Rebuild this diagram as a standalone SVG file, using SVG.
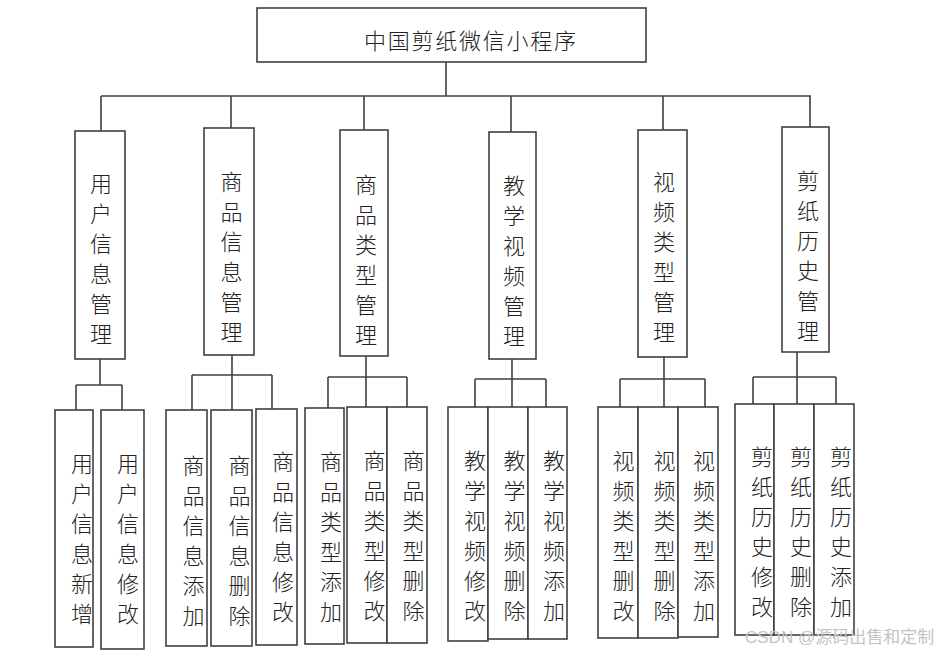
<svg xmlns="http://www.w3.org/2000/svg" width="938" height="654" viewBox="0 0 938 654">
<style>
.box{fill:#fff;stroke:#404040;stroke-width:1.6}
.ln{fill:none;stroke:#404040;stroke-width:1.6}
.t{font-family:"Noto Sans CJK SC","Noto Sans CJK JP",sans-serif;font-size:22px;fill:#222;text-anchor:middle;font-weight:300}
.wm{font-family:"Liberation Sans","Noto Sans CJK SC",sans-serif;font-size:17px;fill:#c4c4c4}
</style>
<rect width="938" height="654" fill="#fff"/>
<g id="connectors" class="ln">
<path d="M446,62V96M101,96H811M101,96V131M231,96V128M364,96V130M511,96V132M663,96V130M810,96V127"/>
<path d="M100,359V385M76,385H122M76,385V410M122,385V410"/>
<path d="M232,355V410M192,375H272M192,375V410M272,375V409"/>
<path d="M366,356V407M328,377H407M328,377V408M407,377V407"/>
<path d="M512,359V407M475,379H546M475,379V407M546,379V407"/>
<path d="M664,357V407M620,379H705M620,379V407M705,379V407"/>
<path d="M797,352V404M753,377H836M753,377V404M836,377V404"/>
</g>
<g id="root"><rect class="box" x="257" y="8" width="389" height="54"/><text class="t" x="470" y="49" textLength="212" lengthAdjust="spacing">中国剪纸微信小程序</text></g>
<g id="n-user"><rect class="box" x="75" y="131" width="50" height="228"/><text class="t" y="192"><tspan x="101">用</tspan><tspan x="101" dy="30">户</tspan><tspan x="101" dy="30">信</tspan><tspan x="101" dy="30">息</tspan><tspan x="101" dy="30">管</tspan><tspan x="101" dy="30">理</tspan></text></g>
<g id="n-goods"><rect class="box" x="204" y="128" width="50" height="227"/><text class="t" y="190"><tspan x="231.5">商</tspan><tspan x="231.5" dy="30">品</tspan><tspan x="231.5" dy="30">信</tspan><tspan x="231.5" dy="30">息</tspan><tspan x="231.5" dy="30">管</tspan><tspan x="231.5" dy="30">理</tspan></text></g>
<g id="n-gtype"><rect class="box" x="340" y="130" width="48" height="226"/><text class="t" y="193"><tspan x="366">商</tspan><tspan x="366" dy="30">品</tspan><tspan x="366" dy="30">类</tspan><tspan x="366" dy="30">型</tspan><tspan x="366" dy="30">管</tspan><tspan x="366" dy="30">理</tspan></text></g>
<g id="n-video"><rect class="box" x="489" y="132" width="47" height="227"/><text class="t" y="193.5"><tspan x="514">教</tspan><tspan x="514" dy="30">学</tspan><tspan x="514" dy="30">视</tspan><tspan x="514" dy="30">频</tspan><tspan x="514" dy="30">管</tspan><tspan x="514" dy="30">理</tspan></text></g>
<g id="n-vtype"><rect class="box" x="638" y="130" width="49" height="227"/><text class="t" y="190"><tspan x="664">视</tspan><tspan x="664" dy="30">频</tspan><tspan x="664" dy="30">类</tspan><tspan x="664" dy="30">型</tspan><tspan x="664" dy="30">管</tspan><tspan x="664" dy="30">理</tspan></text></g>
<g id="n-hist"><rect class="box" x="782" y="127" width="47" height="225"/><text class="t" y="188.5"><tspan x="808">剪</tspan><tspan x="808" dy="30">纸</tspan><tspan x="808" dy="30">历</tspan><tspan x="808" dy="30">史</tspan><tspan x="808" dy="30">管</tspan><tspan x="808" dy="30">理</tspan></text></g>
<g id="n-user-add"><rect class="box" x="55" y="410" width="38" height="237"/><text class="t" y="471.5"><tspan x="82">用</tspan><tspan x="82" dy="30">户</tspan><tspan x="82" dy="30">信</tspan><tspan x="82" dy="30">息</tspan><tspan x="82" dy="30">新</tspan><tspan x="82" dy="30">增</tspan></text></g>
<g id="n-user-edit"><rect class="box" x="101" y="410" width="43" height="239"/><text class="t" y="471.5"><tspan x="128">用</tspan><tspan x="128" dy="30">户</tspan><tspan x="128" dy="30">信</tspan><tspan x="128" dy="30">息</tspan><tspan x="128" dy="30">修</tspan><tspan x="128" dy="30">改</tspan></text></g>
<g id="n-goods-add"><rect class="box" x="166" y="410" width="41" height="236"/><text class="t" y="473.5"><tspan x="193.5">商</tspan><tspan x="193.5" dy="30">品</tspan><tspan x="193.5" dy="30">信</tspan><tspan x="193.5" dy="30">息</tspan><tspan x="193.5" dy="30">添</tspan><tspan x="193.5" dy="30">加</tspan></text></g>
<g id="n-goods-del"><rect class="box" x="211" y="410" width="41" height="236"/><text class="t" y="473.5"><tspan x="239.5">商</tspan><tspan x="239.5" dy="30">品</tspan><tspan x="239.5" dy="30">信</tspan><tspan x="239.5" dy="30">息</tspan><tspan x="239.5" dy="30">删</tspan><tspan x="239.5" dy="30">除</tspan></text></g>
<g id="n-goods-edit"><rect class="box" x="256" y="409" width="41" height="236"/><text class="t" y="470"><tspan x="283">商</tspan><tspan x="283" dy="30">品</tspan><tspan x="283" dy="30">信</tspan><tspan x="283" dy="30">息</tspan><tspan x="283" dy="30">修</tspan><tspan x="283" dy="30">改</tspan></text></g>
<g id="n-gtype-add"><rect class="box" x="305" y="408" width="39" height="236"/><text class="t" y="470"><tspan x="331">商</tspan><tspan x="331" dy="30">品</tspan><tspan x="331" dy="30">类</tspan><tspan x="331" dy="30">型</tspan><tspan x="331" dy="30">添</tspan><tspan x="331" dy="30">加</tspan></text></g>
<g id="n-gtype-edit"><rect class="box" x="347" y="407" width="40" height="236"/><text class="t" y="468.5"><tspan x="374.5">商</tspan><tspan x="374.5" dy="30">品</tspan><tspan x="374.5" dy="30">类</tspan><tspan x="374.5" dy="30">型</tspan><tspan x="374.5" dy="30">修</tspan><tspan x="374.5" dy="30">改</tspan></text></g>
<g id="n-gtype-del"><rect class="box" x="387" y="407" width="40" height="236"/><text class="t" y="468.5"><tspan x="413.5">商</tspan><tspan x="413.5" dy="30">品</tspan><tspan x="413.5" dy="30">类</tspan><tspan x="413.5" dy="30">型</tspan><tspan x="413.5" dy="30">删</tspan><tspan x="413.5" dy="30">除</tspan></text></g>
<g id="n-video-edit"><rect class="box" x="448" y="407" width="40" height="234"/><text class="t" y="468.5"><tspan x="475">教</tspan><tspan x="475" dy="30">学</tspan><tspan x="475" dy="30">视</tspan><tspan x="475" dy="30">频</tspan><tspan x="475" dy="30">修</tspan><tspan x="475" dy="30">改</tspan></text></g>
<g id="n-video-del"><rect class="box" x="488" y="407" width="40" height="232"/><text class="t" y="468.5"><tspan x="514.5">教</tspan><tspan x="514.5" dy="30">学</tspan><tspan x="514.5" dy="30">视</tspan><tspan x="514.5" dy="30">频</tspan><tspan x="514.5" dy="30">删</tspan><tspan x="514.5" dy="30">除</tspan></text></g>
<g id="n-video-add"><rect class="box" x="528" y="407" width="39" height="232"/><text class="t" y="468.5"><tspan x="554">教</tspan><tspan x="554" dy="30">学</tspan><tspan x="554" dy="30">视</tspan><tspan x="554" dy="30">频</tspan><tspan x="554" dy="30">添</tspan><tspan x="554" dy="30">加</tspan></text></g>
<g id="n-vtype-edit"><rect class="box" x="598" y="407" width="40" height="231"/><text class="t" y="468.5"><tspan x="623.5">视</tspan><tspan x="623.5" dy="30">频</tspan><tspan x="623.5" dy="30">类</tspan><tspan x="623.5" dy="30">型</tspan><tspan x="623.5" dy="30">删</tspan><tspan x="623.5" dy="30">改</tspan></text></g>
<g id="n-vtype-del"><rect class="box" x="638" y="407" width="40" height="231"/><text class="t" y="468.5"><tspan x="664.5">视</tspan><tspan x="664.5" dy="30">频</tspan><tspan x="664.5" dy="30">类</tspan><tspan x="664.5" dy="30">型</tspan><tspan x="664.5" dy="30">删</tspan><tspan x="664.5" dy="30">除</tspan></text></g>
<g id="n-vtype-add"><rect class="box" x="678" y="407" width="40" height="230"/><text class="t" y="468.5"><tspan x="704">视</tspan><tspan x="704" dy="30">频</tspan><tspan x="704" dy="30">类</tspan><tspan x="704" dy="30">型</tspan><tspan x="704" dy="30">添</tspan><tspan x="704" dy="30">加</tspan></text></g>
<g id="n-hist-edit"><rect class="box" x="735" y="404" width="39" height="231"/><text class="t" y="465"><tspan x="762">剪</tspan><tspan x="762" dy="30">纸</tspan><tspan x="762" dy="30">历</tspan><tspan x="762" dy="30">史</tspan><tspan x="762" dy="30">修</tspan><tspan x="762" dy="30">改</tspan></text></g>
<g id="n-hist-del"><rect class="box" x="774" y="404" width="40" height="231"/><text class="t" y="465"><tspan x="801">剪</tspan><tspan x="801" dy="30">纸</tspan><tspan x="801" dy="30">历</tspan><tspan x="801" dy="30">史</tspan><tspan x="801" dy="30">删</tspan><tspan x="801" dy="30">除</tspan></text></g>
<g id="n-hist-add"><rect class="box" x="814" y="404" width="40" height="231"/><text class="t" y="465"><tspan x="841">剪</tspan><tspan x="841" dy="30">纸</tspan><tspan x="841" dy="30">历</tspan><tspan x="841" dy="30">史</tspan><tspan x="841" dy="30">添</tspan><tspan x="841" dy="30">加</tspan></text></g>
<text class="wm" x="745" y="643">CSDN @源码出售和定制</text>
</svg>
